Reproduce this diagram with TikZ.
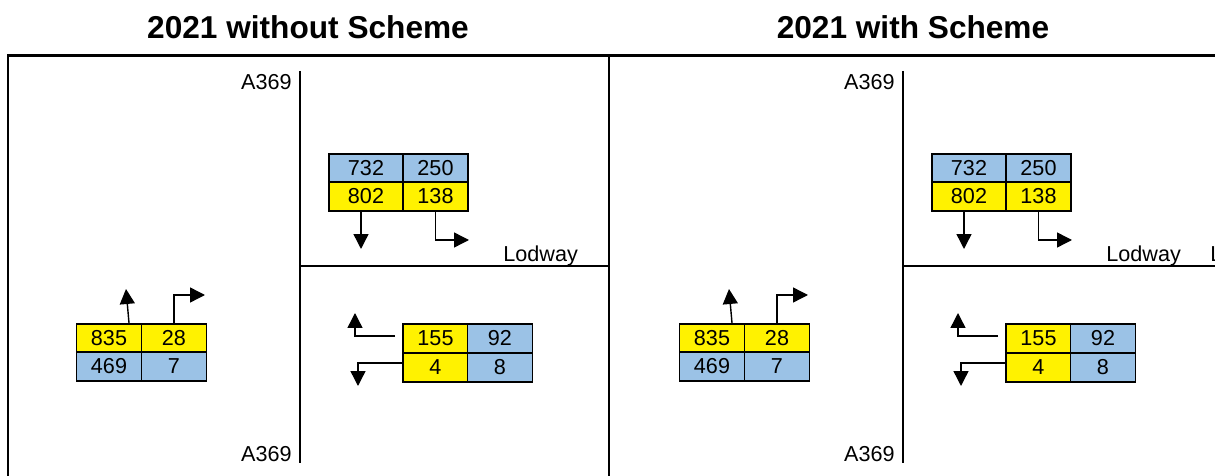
\documentclass[tikz,border=0pt]{standalone}
\usepackage{fontspec}
\setmainfont{Liberation Sans}
\usetikzlibrary{arrows.meta}
\definecolor{cellblue}{RGB}{155,194,230}

\begin{document}
\begin{tikzpicture}[x=0.02cm, y=-0.02cm, every node/.style={font=\fontsize{12.3}{14}\selectfont, inner sep=0pt}, >={Triangle[length=0.3cm, width=0.3cm]},
	cb/.style={draw, line width=1pt, fill=cellblue, minimum width=1.3cm, minimum height=0.57cm},
	cy/.style={cb, fill=yellow},
	ttl/.style={font=\fontsize{18}{22}\selectfont\bfseries},
	frame/.style={line width=1.3pt}, road/.style={line width=1.1pt}, arr/.style={->, line width=0.8pt}]
	\useasboundingbox (0,0) rectangle (1215,476);
	\clip (0,0) rectangle (1215,476);
	% titles and frame
	\node[ttl] (L-title) at (308,27) {2021 without Scheme};
	\node[ttl] (R-title) at (913,27) {2021 with Scheme};
	\draw[frame] (8,490) -- (8,55.5) -- (1230,55.5);
	\draw[frame] (609,55.5) -- (609,490);

	% without scheme
	\draw[road] (300,71) -- (300,463);
	\draw[road] (300,266) -- (609,266);
	\node[anchor=east] (L-a369n) at (292,82) {A369};
	\node[anchor=east] (L-a369s) at (292,454) {A369};
	\node[anchor=base west] (L-lodway) at (503,262) {Lodway};
	\node[cb, minimum width=1.48cm] (L-N11) at (366,168) {732};
	\node[cb] (L-N12) at (435.5,168) {250};
	\node[cy, minimum width=1.48cm] (L-N21) at (366,196.5) {802};
	\node[cy] (L-N22) at (435.5,196.5) {138};
	\node[cy] (L-S11) at (109,338) {835};
	\node[cy] (L-S12) at (174,338) {28};
	\node[cb] (L-S21) at (109,366.5) {469};
	\node[cb] (L-S22) at (174,366.5) {7};
	\node[cy] (L-E11) at (435.5,338.5) {155};
	\node[cb] (L-E12) at (500,338.5) {92};
	\node[cy] (L-E21) at (435.5,367.5) {4};
	\node[cb] (L-E22) at (500,367.5) {8};
	\coordinate (L-n1) at (361,249);
	\coordinate (L-n2) at (469,240);
	\coordinate (L-s1) at (126,289);
	\coordinate (L-s2) at (205,295);
	\coordinate (L-e1) at (355,313);
	\coordinate (L-e2) at (358,386);
	\draw[arr] (L-N21.south -| L-n1) -- (L-n1);
	\draw[arr] (L-N22.south) |- (L-n2);
	\draw[arr] ([xshift=0.4cm]L-S11.north) -- (L-s1);
	\draw[arr] (L-S12.north) |- (L-s2);
	\draw[arr] ([shift={(-7,-2.5)}]L-E11.west) -| (L-e1);
	\draw[arr] ([yshift=0.09cm]L-E21.west) -| (L-e2);

	% with scheme
	\draw[road] (903,71) -- (903,463);
	\draw[road] (903,266) -- (1230,266);
	\node[anchor=east] (R-a369n) at (895,82) {A369};
	\node[anchor=east] (R-a369s) at (895,454) {A369};
	\node[anchor=base west] (R-lodway) at (1106,262) {Lodway};
	\node[anchor=base west] (R-lodway2) at (1210,262) {Lodway};
	\node[cb, minimum width=1.48cm] (R-N11) at (969,168) {732};
	\node[cb] (R-N12) at (1038.5,168) {250};
	\node[cy, minimum width=1.48cm] (R-N21) at (969,196.5) {802};
	\node[cy] (R-N22) at (1038.5,196.5) {138};
	\node[cy] (R-S11) at (712,338) {835};
	\node[cy] (R-S12) at (777,338) {28};
	\node[cb] (R-S21) at (712,366.5) {469};
	\node[cb] (R-S22) at (777,366.5) {7};
	\node[cy] (R-E11) at (1038.5,338.5) {155};
	\node[cb] (R-E12) at (1103,338.5) {92};
	\node[cy] (R-E21) at (1038.5,367.5) {4};
	\node[cb] (R-E22) at (1103,367.5) {8};
	\coordinate (R-n1) at (964,249);
	\coordinate (R-n2) at (1072,240);
	\coordinate (R-s1) at (729,289);
	\coordinate (R-s2) at (808,295);
	\coordinate (R-e1) at (958,313);
	\coordinate (R-e2) at (961,386);
	\draw[arr] (R-N21.south -| R-n1) -- (R-n1);
	\draw[arr] (R-N22.south) |- (R-n2);
	\draw[arr] ([xshift=0.4cm]R-S11.north) -- (R-s1);
	\draw[arr] (R-S12.north) |- (R-s2);
	\draw[arr] ([shift={(-7,-2.5)}]R-E11.west) -| (R-e1);
	\draw[arr] ([yshift=0.09cm]R-E21.west) -| (R-e2);
\end{tikzpicture}
\end{document}
